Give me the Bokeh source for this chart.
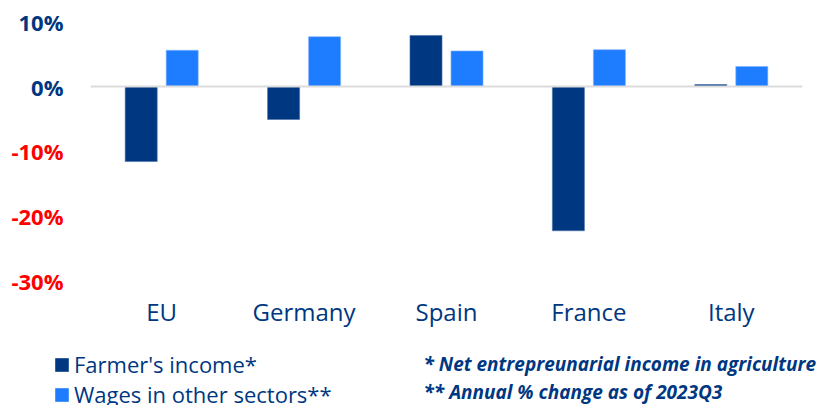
from bokeh.plotting import figure
from bokeh.layouts import column, row
from bokeh.models import ColumnDataSource, FactorRange, Range1d, Span, Label, Legend, LegendItem
from bokeh.core.properties import value
from bokeh.transform import dodge
from bokeh.embed import file_html
from bokeh.resources import INLINE

countries = ["EU", "Germany", "Spain", "France", "Italy"]
farmers_income = [-11.6, -5.1, 7.9, -22.3, 0.3]
wages_other = [5.6, 7.7, 5.5, 5.7, 3.1]
y_ticks = [10, 0, -10, -20, -30]
y_tick_labels = ["10%", "0%", "-10%", "-20%", "-30%"]
series_names = ["Farmer's income*", "Wages in other sectors**"]
footnotes = ["* Net entrepreunarial income in agriculture", "** Annual % change as of 2023Q3"]

DARK = "#003781"
LIGHT = "#1E7DFF"
RED = "#FF0000"
FONT = "Open Sans"

TOP_H = 330
yr = Range1d(-32, 13.3)

# main bar chart
src = ColumnDataSource(dict(x=countries, farm=farmers_income, wage=wages_other))
p = figure(x_range=FactorRange(*countries, range_padding=0), y_range=yr,
           width=733, height=TOP_H, output_backend="svg", toolbar_location=None,
           min_border_left=0, min_border_right=21, min_border_top=0, min_border_bottom=35)
p.outline_line_color = None
p.grid.visible = False
p.yaxis.visible = False
p.add_layout(Span(location=0, dimension="width", line_color="#dcdcdc", line_width=2))
r1 = p.vbar(x=dodge("x", -0.144, range=p.x_range), top="farm", width=0.225, source=src,
            fill_color=DARK, line_color="#4a6fa8", line_width=0.6)
r2 = p.vbar(x=dodge("x", 0.144, range=p.x_range), top="wage", width=0.225, source=src,
            fill_color=LIGHT, line_color="#7fb2ff", line_width=0.6)
xa = p.xaxis[0]
xa.axis_line_color = None
xa.major_tick_line_color = None
xa.minor_tick_line_color = None
xa.major_tick_out = 0
xa.major_tick_in = 0
xa.major_label_text_font = FONT
xa.major_label_text_font_size = "24px"
xa.major_label_text_color = DARK
xa.major_label_standoff = 1

# tick label column (shares the y scale)
tsrc = ColumnDataSource(dict(y=y_ticks, t=y_tick_labels,
                             c=[RED if v < 0 else DARK for v in y_ticks]))
pa = figure(x_range=Range1d(0, 1), y_range=yr, width=90, height=TOP_H,
            output_backend="svg", toolbar_location=None,
            min_border_left=0, min_border_right=0, min_border_top=0, min_border_bottom=35)
pa.axis.visible = False
pa.grid.visible = False
pa.outline_line_color = None
pa.text(x=1, y="y", text="t", text_color="c", source=tsrc, x_offset=-27,
        text_align="right", text_baseline="middle", text_font=value(FONT),
        text_font_size="22px", text_font_style="bold")

# bottom: legend and footnotes
pc = figure(x_range=Range1d(0, 1), y_range=Range1d(0, 1), width=823, height=405 - TOP_H,
            output_backend="svg", toolbar_location=None,
            min_border_left=0, min_border_right=0, min_border_top=0, min_border_bottom=0)
pc.axis.visible = False
pc.grid.visible = False
pc.outline_line_color = None
g1 = pc.vbar(x=[0], top=[0], width=0, fill_color=DARK, line_color=None)
g2 = pc.vbar(x=[0], top=[0], width=0, fill_color=LIGHT, line_color=None)
legend = Legend(items=[LegendItem(label=series_names[0], renderers=[g1]),
                       LegendItem(label=series_names[1], renderers=[g2])],
                location=(53, -4), orientation="vertical",
                glyph_width=17, glyph_height=17, label_height=20, spacing=-4,
                label_standoff=4, padding=0, margin=0,
                label_text_font=FONT, label_text_font_size="22px", label_text_color=DARK,
                border_line_alpha=0, background_fill_alpha=0)
pc.add_layout(legend)
for i, t in enumerate(footnotes):
    pc.add_layout(Label(x=423, y=42 - 28 * i, x_units="screen", y_units="screen", text=t,
                        text_align="left", text_baseline="middle",
                        text_font=FONT, text_font_size="19px", text_font_style="bold italic",
                        text_color=DARK))

layout = column(row(pa, p, spacing=0), pc, spacing=0)
open("out.html", "w").write(file_html(layout, INLINE))
